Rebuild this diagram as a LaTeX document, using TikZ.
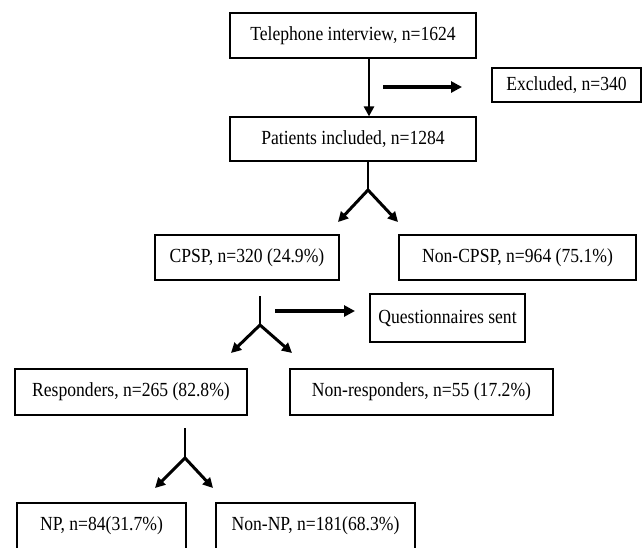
\documentclass[tikz,border=0pt]{standalone}
\usepackage{fontspec}
\setmainfont{Liberation Serif}[FakeStretch=0.88]
\usepackage{tikz}
\usetikzlibrary{arrows.meta}
\tikzset{
	box/.style={draw,line width=1.2pt,rectangle,inner sep=0pt,font=\fontsize{20}{22}\selectfont},
	fatarrow/.style={line width=3.5pt,-{Triangle[length=11pt,width=11pt]}},
	splitarrow/.style={line width=3pt,-{Triangle[length=10pt,width=10pt]}},
	stem/.style={line width=1.2pt}
}
\begin{document}
	\begin{tikzpicture}[x=1pt,y=-1pt]
		\clip (0,0) rectangle (643,547);
		\fill[white] (0,0) rectangle (643,547);
		\node [box,minimum width=246pt,minimum height=45pt] (tel) at (353,35.5) {Telephone interview, n=1624};
		\node [box,minimum width=149pt,minimum height=34pt] (excl) at (566.5,85) {Excluded, n=340};
		\node [box,minimum width=246pt,minimum height=44pt] (pat) at (353,139) {Patients included, n=1284};
		\node [box,minimum width=184pt,minimum height=45pt] (cpsp) at (247,257.5) {CPSP, n=320 (24.9\%)};
		\node [box,minimum width=237pt,minimum height=45pt] (noncpsp) at (517.5,257.5) {Non-CPSP, n=964 (75.1\%)};
		\node [box,minimum width=155pt,minimum height=48pt] (quest) at (447.5,318) {Questionnaires sent};
		\node [box,minimum width=232pt,minimum height=46pt] (resp) at (131,392) {Responders, n=265 (82.8\%)};
		\node [box,minimum width=263pt,minimum height=46pt] (nonresp) at (421.5,392) {Non-responders, n=55 (17.2\%)};
		\node [box,minimum width=169pt,minimum height=46pt] (np) at (101.5,526) {NP, n=84(31.7\%)};
		\node [box,minimum width=199pt,minimum height=46pt] (nonnp) at (315.5,526) {Non-NP, n=181(68.3\%)};
		\coordinate (exa) at (383,87);
		\coordinate (exb) at (462,87);
		\coordinate (sa) at (368,190);
		\coordinate (sal) at (338,222);
		\coordinate (sar) at (398,222);
		\coordinate (qtop) at (260,296);
		\coordinate (sb) at (260,325);
		\coordinate (sbl) at (231,353);
		\coordinate (sbr) at (292,353);
		\coordinate (qa) at (275,311);
		\coordinate (qb) at (355,311);
		\coordinate (rtop) at (185,428);
		\coordinate (sc) at (185,458);
		\coordinate (scl) at (155,488);
		\coordinate (scr) at (213,488);
		\draw [line width=2.5pt,-{Triangle[length=10pt,width=10pt]}] ([xshift=16pt]tel.south) -- ([xshift=16pt]pat.north);
		\draw [fatarrow] (exa) -- (exb);
		\draw [stem] (pat.south -| sa) -- (sa);
		\draw [splitarrow] (sa) -- (sal);
		\draw [splitarrow] (sa) -- (sar);
		\draw [stem] (qtop) -- (sb);
		\draw [fatarrow] (qa) -- (qb);
		\draw [splitarrow] (sb) -- (sbl);
		\draw [splitarrow] (sb) -- (sbr);
		\draw [stem] (rtop) -- (sc);
		\draw [splitarrow] (sc) -- (scl);
		\draw [splitarrow] (sc) -- (scr);
	\end{tikzpicture}
\end{document}
